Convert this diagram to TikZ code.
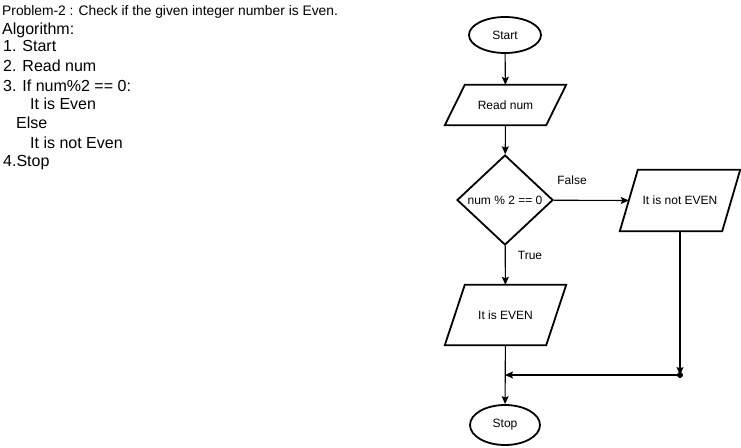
\documentclass[tikz,border=0pt]{standalone}
\usepackage{fontspec}
\setmainfont{Liberation Sans}
\usetikzlibrary{shapes.geometric,arrows.meta,calc}
\tikzset{
  shp/.style={draw=black, line width=1.8pt, inner sep=0pt, font=\fontsize{12}{14}\selectfont},
  pedge/.style={draw=black, line width=1.8pt, line join=miter},
  term/.style={shp, ellipse},
  io/.style={inner sep=0pt, font=\fontsize{12}{14}\selectfont},
  dec/.style={shp, diamond, minimum width=96pt, minimum height=90pt},
  arr/.style={line width=1.1pt, -{Stealth[length=8pt,width=7pt,inset=1.5pt]}},
  lbl/.style={inner sep=0pt, font=\fontsize{12}{14}\selectfont},
  alg/.style={anchor=base west, inner sep=0pt, font=\fontsize{16}{19}\selectfont},
}
\newcommand{\myslantbox}[2]{% #1 node name, #2 slant
  \draw[pedge] (#1.south west) -- ($(#1.north west)+(#2,0)$) -- (#1.north east) -- ($(#1.south east)+(-#2,0)$) -- cycle;}
\begin{document}
\begin{tikzpicture}[x=1pt,y=-1pt]
\useasboundingbox (0,0) rectangle (741,447);
% algorithm text
\node[anchor=base west, inner sep=0pt, font=\fontsize{13.8}{15}\selectfont] (t0) at (2,15) {Problem-2 : Check if the given integer number is Even.};
\node[alg] (t1) at (2,34) {Algorithm:};
\node[alg] (t2) at (3,51) {1. Start};
\node[alg] (t3) at (3,71) {2. Read num};
\node[alg] (t4) at (3,91) {3. If num\%2 == 0:};
\node[alg] (t5) at (30,109) {It is Even};
\node[alg] (t6) at (16,128) {Else};
\node[alg] (t7) at (30,148) {It is not Even};
\node[alg] (t8) at (3,166) {4.Stop};
% flowchart
\node[term, minimum width=72pt, minimum height=36pt] (start) at (505,35) {Start};
\node[io, minimum width=121pt, minimum height=40pt] (read) at (505.5,105) {Read num};
\node[dec] (cond) at (505,200) {num \% 2 == 0};
\node[io, minimum width=120pt, minimum height=61pt] (noteven) at (680,200.5) {It is not EVEN};
\node[io, minimum width=121pt, minimum height=60pt] (even) at (505.5,315) {It is EVEN};
\node[term, minimum width=70pt, minimum height=40pt] (stop) at (505,425) {Stop};
\myslantbox{read}{20}
\myslantbox{noteven}{18}
\myslantbox{even}{20}
\coordinate (nel) at ($(noteven.west)+(9,0)$);
\coordinate (j) at (680,375);
\coordinate (m) at (505,375);
\draw[arr] (start) -- (read);
\draw[arr] (read) -- (cond);
\draw[arr] (cond) -- (nel);
\draw[arr] (cond) -- (even);
\draw[arr] (even) -- (stop);
\draw[arr] (noteven) -- (j);
\draw[arr] (j) -- (m);
\fill (j) circle (3pt);
\node[lbl] (lf) at (572,180) {False};
\node[lbl] (lt) at (530,255) {True};
\end{tikzpicture}
\end{document}
